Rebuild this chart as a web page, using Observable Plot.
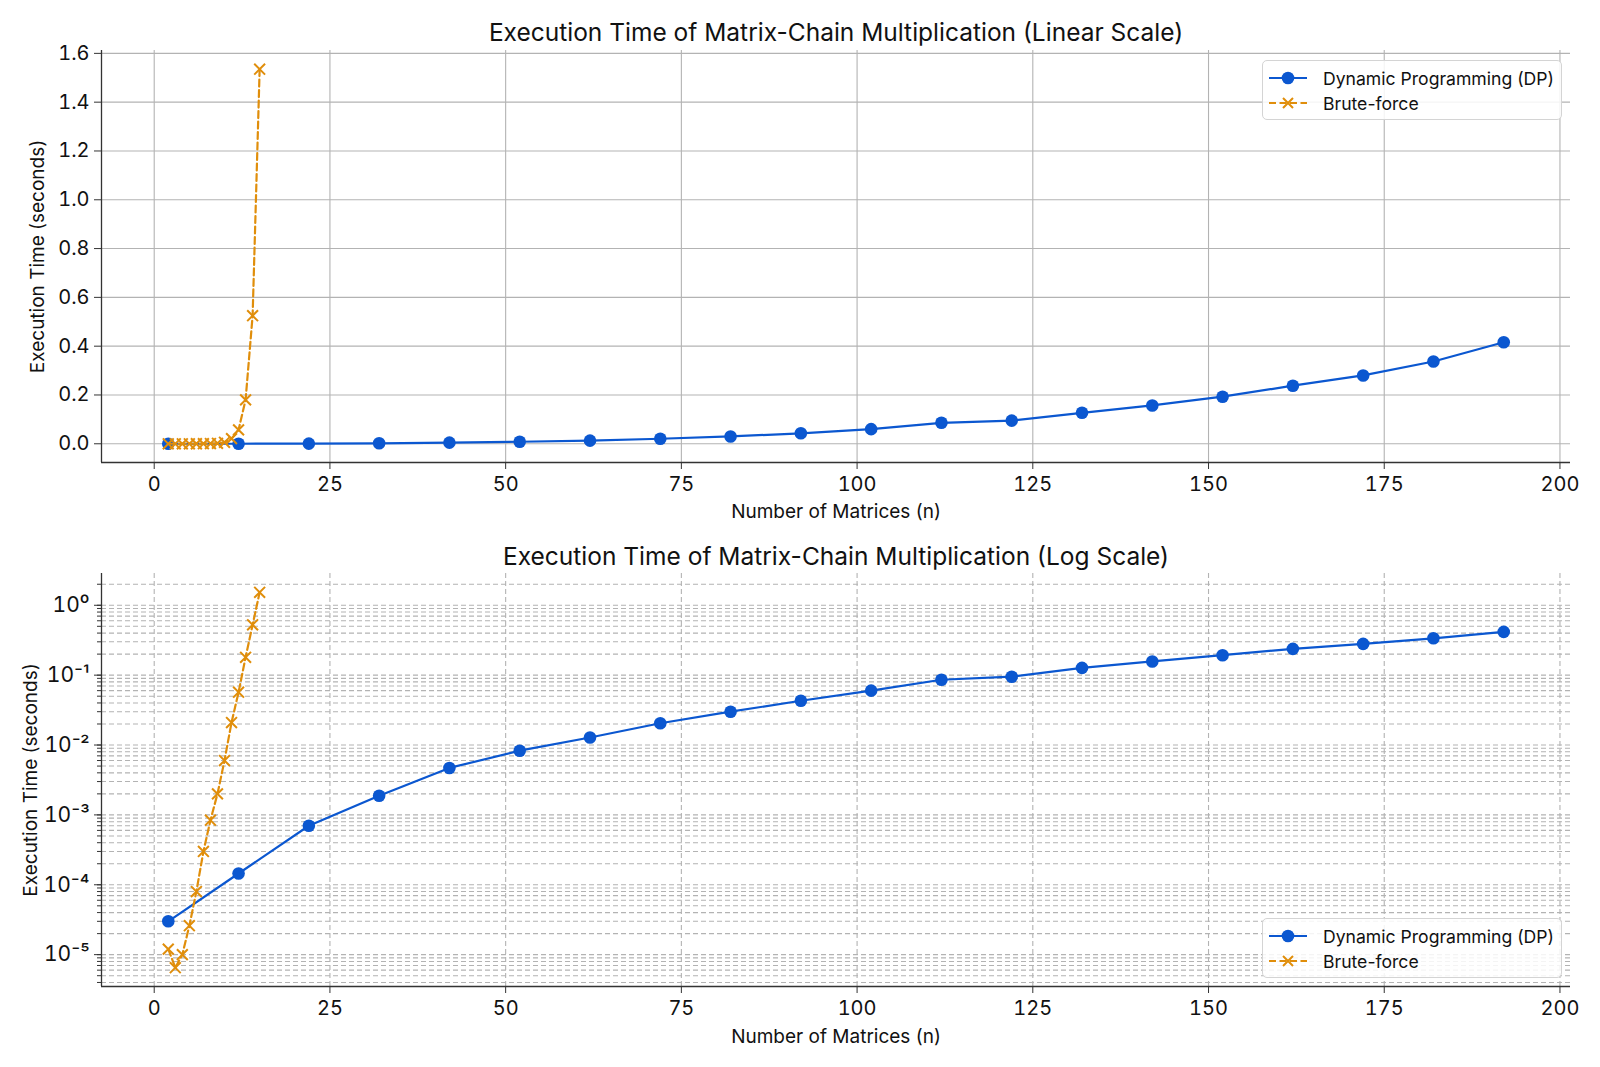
<!DOCTYPE html>
<html>
<head>
<meta charset="utf-8">
<script src="https://cdn.jsdelivr.net/npm/d3@7"></script>
<script src="https://cdn.jsdelivr.net/npm/@observablehq/plot@0.6"></script>
<style>
  html, body { margin: 0; padding: 0; background: #fff; }
  #wrap { position: relative; width: 1600px; height: 1067px; overflow: hidden; font-family: Inter, "Open Sans", sans-serif; color: #111; }
  #wrap svg { display: block; }
  .legend { position: absolute; left: 1262px; width: 300px; height: 60px; box-sizing: border-box;
            border: 1px solid #d4d4d4; border-radius: 5px; background: rgba(255,255,255,0.85); font-size: 17.6px; }
  .legend .row { position: absolute; left: 0; height: 24px; display: flex; align-items: center; }
  .legend .row svg { margin-left: 5px; }
  .legend .row span { margin-left: 15px; white-space: nowrap; }
</style>
</head>
<body>
<div id="wrap"></div>
<script>
// ---------------- data ----------------
const seriesNames = ["Dynamic Programming (DP)", "Brute-force"];
const dpN = [2, 12, 22, 32, 42, 52, 62, 72, 82, 92, 102, 112, 122, 132, 142, 152, 162, 172, 182, 192];
const dpTime = [3.0e-5, 1.45e-4, 7.0e-4, 1.88e-3, 4.7e-3, 8.3e-3, 0.0128, 0.0205, 0.030, 0.043,
                0.060, 0.086, 0.095, 0.127, 0.157, 0.193, 0.238, 0.280, 0.337, 0.416];
const bfN = [2, 3, 4, 5, 6, 7, 8, 9, 10, 11, 12, 13, 14, 15];
const bfTime = [1.2e-5, 6.5e-6, 1.0e-5, 2.6e-5, 8.0e-5, 3.0e-4, 8.4e-4, 2.0e-3, 6.0e-3, 0.021,
                0.057, 0.180, 0.525, 1.535];
const xTicks = [0, 25, 50, 75, 100, 125, 150, 175, 200];
const linearYTicks = [0, 0.2, 0.4, 0.6, 0.8, 1.0, 1.2, 1.4, 1.6];
const logMajorTicks = [1e-5, 1e-4, 1e-3, 1e-2, 1e-1, 1e0];
const titles = ["Execution Time of Matrix-Chain Multiplication (Linear Scale)",
                "Execution Time of Matrix-Chain Multiplication (Log Scale)"];
const xLabel = "Number of Matrices (n)";
const yLabel = "Execution Time (seconds)";

// ---------------- style ----------------
const dpColor = "#0b57d0";
const bfColor = "#e08e0b";
const gridColor = "#b3b3b3";
const spineColor = "#333";
const font = 'Inter, "Open Sans", sans-serif';

const dp = dpN.map((n, i) => ({n, t: dpTime[i]}));
const bf = bfN.map((n, i) => ({n, t: bfTime[i]}));

const allN = dpN.concat(bfN);
const allT = dpTime.concat(bfTime);
const xMin = d3.min(allN), xMax = d3.max(allN), xPad = 0.05 * (xMax - xMin);
const xDomain = [xMin - xPad, xMax + xPad];
const yMin = d3.min(allT), yMax = d3.max(allT), yPad = 0.05 * (yMax - yMin);
const yDomainLin = [yMin - yPad, yMax + yPad];
const lMin = Math.log10(yMin), lMax = Math.log10(yMax), lPad = 0.05 * (lMax - lMin);
const yDomainLog = [Math.pow(10, lMin - lPad), Math.pow(10, lMax + lPad)];

const minorLog = [];
for (let e = -7; e <= 1; e++) for (let k = 1; k <= 9; k++) {
  const v = k * Math.pow(10, e);
  if (v >= yDomainLog[0] && v <= yDomainLog[1]) minorLog.push(v);
}
const sup = {"0":"⁰","1":"¹","2":"²","3":"³","4":"⁴","5":"⁵","6":"⁶","7":"⁷","8":"⁸","9":"⁹","-":"⁻"};
const fmtPow = d => "10" + String(Math.round(Math.log10(d))).split("").map(c => sup[c]).join("");

function seriesMarks() {
  return [
    Plot.line(dp, {x: "n", y: "t", stroke: dpColor, strokeWidth: 2.2}),
    Plot.dot(dp, {x: "n", y: "t", r: 6.3, fill: dpColor, stroke: "none"}),
    Plot.line(bf, {x: "n", y: "t", stroke: bfColor, strokeWidth: 2.2, strokeDasharray: "7,3.5"}),
    Plot.dot(bf, {x: "n", y: "t", symbol: "times", r: 5, stroke: bfColor, strokeWidth: 2})
  ];
}

function labelMarks(title, titleDy, xDy, yDx) {
  return [
    Plot.text([title], {text: d => d, frameAnchor: "top", dy: titleDy, fontSize: 24.5, fill: "#111"}),
    Plot.text([xLabel], {text: d => d, frameAnchor: "bottom", dy: xDy, fontSize: 19, fill: "#111"}),
    Plot.text([yLabel], {text: d => d, frameAnchor: "left", textAnchor: "middle", dx: yDx, rotate: -90,
                         fontSize: 19, fill: "#111"})
  ];
}

const common = {
  width: 1600,
  marginLeft: 101,
  marginRight: 30,
  style: {fontFamily: font, fontSize: "20px", color: "#111", background: "transparent", overflow: "visible"},
  x: {domain: xDomain}
};

const topPlot = Plot.plot({
  ...common,
  height: 533,
  marginTop: 50,
  marginBottom: 71,
  y: {domain: yDomainLin},
  marks: [
    Plot.gridX(xTicks, {stroke: gridColor, strokeOpacity: 1, strokeWidth: 1.1}),
    Plot.gridY(linearYTicks, {stroke: gridColor, strokeOpacity: 1, strokeWidth: 1.1}),
    Plot.ruleX([xDomain[0]], {stroke: spineColor, strokeWidth: 1.3}),
    Plot.ruleY([yDomainLin[0]], {stroke: spineColor, strokeWidth: 1.3}),
    Plot.axisX(xTicks, {tickSize: 7, tickPadding: 7, label: null, fontSize: 20, stroke: spineColor}),
    Plot.axisY(linearYTicks, {tickSize: 7, tickPadding: 5, label: null, fontSize: 20, stroke: spineColor,
                              tickFormat: d => d3.format(".1f")(d)}),
    ...seriesMarks(),
    ...labelMarks(titles[0], -27, 55, -64)
  ]
});

const bottomPlot = Plot.plot({
  ...common,
  height: 534,
  marginTop: 40,
  marginBottom: 81,
  y: {type: "log", domain: yDomainLog},
  marks: [
    Plot.gridX(xTicks, {stroke: gridColor, strokeOpacity: 1, strokeWidth: 1.1, strokeDasharray: "5,3"}),
    Plot.gridY(minorLog, {stroke: gridColor, strokeOpacity: 1, strokeWidth: 1.1, strokeDasharray: "5,3"}),
    Plot.ruleX([xDomain[0]], {stroke: spineColor, strokeWidth: 1.3}),
    Plot.ruleY([yDomainLog[0]], {stroke: spineColor, strokeWidth: 1.3}),
    Plot.axisX(xTicks, {tickSize: 7, tickPadding: 7, label: null, fontSize: 20, stroke: spineColor}),
    Plot.axisY(minorLog, {tickSize: 4, label: null, tickFormat: () => "", stroke: spineColor}),
    Plot.axisY(logMajorTicks, {tickSize: 7, tickPadding: 5, label: null, fontSize: 21, stroke: spineColor,
                               tickFormat: fmtPow}),
    ...seriesMarks(),
    ...labelMarks(titles[1], -26, 56, -71)
  ]
});

const wrap = document.getElementById("wrap");
wrap.appendChild(topPlot);
wrap.appendChild(bottomPlot);

function legend(top) {
  const box = document.createElement("div");
  box.className = "legend";
  box.style.top = top + "px";
  const rows = [
    {name: seriesNames[0], color: dpColor, dash: null, marker: "dot"},
    {name: seriesNames[1], color: bfColor, dash: "7,3.5", marker: "x"}
  ];
  rows.forEach((r, i) => {
    const row = document.createElement("div");
    row.className = "row";
    row.style.top = (5 + i * 25) + "px";
    const s = d3.create("svg").attr("width", 40).attr("height", 24);
    s.append("line").attr("x1", 1).attr("x2", 39).attr("y1", 12).attr("y2", 12)
      .attr("stroke", r.color).attr("stroke-width", 2.2).attr("stroke-dasharray", r.dash);
    if (r.marker === "dot") s.append("circle").attr("cx", 20).attr("cy", 12).attr("r", 6.3).attr("fill", r.color);
    else s.append("path").attr("d", "M15,7L25,17M25,7L15,17").attr("stroke", r.color).attr("stroke-width", 2);
    row.appendChild(s.node());
    const t = document.createElement("span");
    t.textContent = r.name;
    row.appendChild(t);
    box.appendChild(row);
  });
  wrap.appendChild(box);
}
legend(60);
legend(918);
</script>
</body>
</html>
